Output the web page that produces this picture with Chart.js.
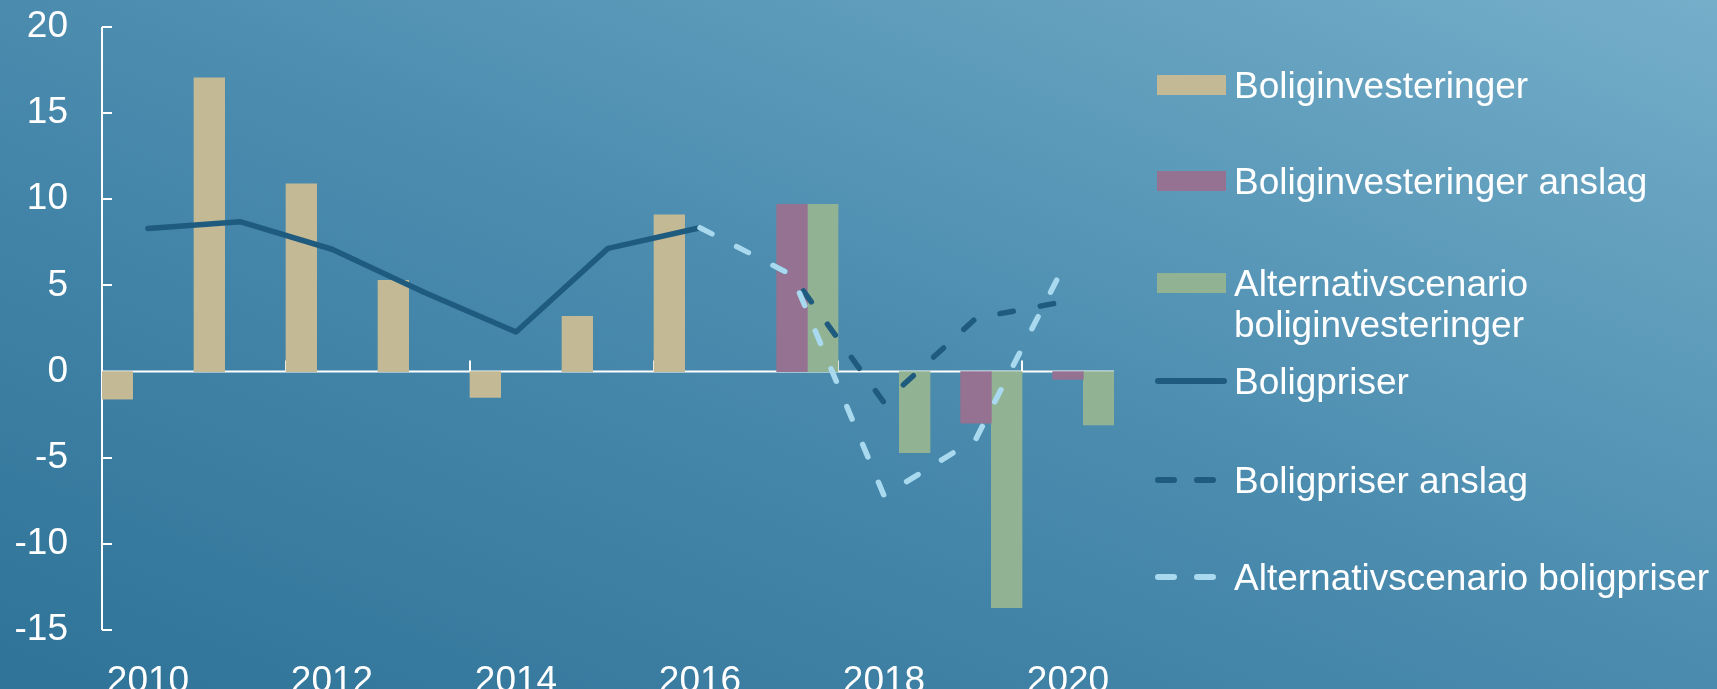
<!DOCTYPE html>
<html>
<head>
<meta charset="utf-8">
<script src="https://cdn.jsdelivr.net/npm/chart.js@4.4.1/dist/chart.umd.min.js"></script>
<style>
  html, body { margin: 0; padding: 0; }
  body {
    width: 1717px; height: 689px; overflow: hidden; position: relative;
    background: linear-gradient(to top right, #2f7398 0%, #4a8bae 50%, #74aec9 100%);
    font-family: Arial, "Liberation Sans", sans-serif; color: #fff;
  }
  #wrap { position: absolute; left: 0; top: 0; width: 1717px; height: 689px; }
  #legend { position: absolute; left: 0; top: 0; }
  .item { position: absolute; font-size: 37px; line-height: 41px; white-space: nowrap; }
  .sw { position: absolute; }
</style>
</head>
<body>
<div id="wrap"><canvas id="myChart"></canvas></div>
<div id="legend"></div>
<script>
// data
const years = ['2010', '2011', '2012', '2013', '2014', '2015', '2016', '2017', '2018', '2019', '2020'];
const boliginvesteringer = [-1.6, 17.05, 10.9, 5.3, -1.5, 3.2, 9.1, null, null, null, null];
const boliginvesteringerAnslag = [null, null, null, null, null, null, null, 9.7, null, -3.0, -0.45];
const altBoliginvesteringer = [null, null, null, null, null, null, null, 9.7, -4.7, -13.7, -3.1];
const boligpriser = [8.3, 8.7, 7.1, 4.6, 2.3, 7.15, 8.35, null, null, null, null];
const boligpriserAnslag = [null, null, null, null, null, null, 8.35, 5.6, -1.8, 3.1, 4.1];
const altBoligpriser = [null, null, null, null, null, null, 8.35, 5.6, -7.2, -3.9, 6.6];
const yMin = -15, yMax = 20, yStep = 5;

const beige = '#c3b994';
const purple = '#957192';
const green = '#92b393';
const darkBlue = '#1f5b7e';
const lightBlue = '#a8d9ef';

// white axis lines with inward ticks, zero line across
const axisMarks = {
  id: 'axisMarks',
  beforeDatasetsDraw(chart) {
    const { ctx, scales: { x, y } } = chart;
    const left = x.left, right = x.right;
    const y0 = y.getPixelForValue(0);
    ctx.save();
    ctx.strokeStyle = '#ffffff';
    ctx.lineWidth = 2;
    ctx.beginPath();
    ctx.moveTo(left, y.getPixelForValue(yMax));
    ctx.lineTo(left, y.getPixelForValue(yMin));
    for (let v = yMin; v <= yMax; v += yStep) {
      const py = Math.round(y.getPixelForValue(v));
      ctx.moveTo(left, py);
      ctx.lineTo(left + 10, py);
    }
    ctx.moveTo(left, y0);
    ctx.lineTo(right, y0);
    const half = (x.getPixelForValue(1) - x.getPixelForValue(0)) / 2;
    for (let i = 0; i < years.length; i += 2) {
      const px = Math.round(x.getPixelForValue(i) - half);
      ctx.moveTo(px, y0);
      ctx.lineTo(px, y0 - 11);
    }
    ctx.stroke();
    ctx.restore();
  }
};

const lineStyle = {
  type: 'line',
  borderWidth: 5.5,
  pointRadius: 0,
  tension: 0,
  borderCapStyle: 'round',
  borderJoinStyle: 'round',
  fill: false,
  spanGaps: false
};

const ctx = document.getElementById('myChart');
new Chart(ctx, {
  type: 'bar',
  data: {
    labels: years,
    datasets: [
      { label: 'Boliginvesteringer', data: boliginvesteringer, backgroundColor: beige, order: 3 },
      { label: 'Boliginvesteringer anslag', data: boliginvesteringerAnslag, backgroundColor: purple, order: 3 },
      { label: 'Alternativscenario boliginvesteringer', data: altBoliginvesteringer, backgroundColor: green, order: 3 },
      Object.assign({}, lineStyle, { label: 'Boligpriser', data: boligpriser, borderColor: darkBlue, order: 2 }),
      Object.assign({}, lineStyle, { label: 'Boligpriser anslag', data: boligpriserAnslag, borderColor: darkBlue, borderDash: [13.5, 27.5], order: 1 }),
      Object.assign({}, lineStyle, { label: 'Alternativscenario boligpriser', data: altBoligpriser, borderColor: lightBlue, borderDash: [13.5, 27.5], order: 0 })
    ]
  },
  options: {
    responsive: true,
    maintainAspectRatio: false,
    animation: false,
    devicePixelRatio: 1,
    layout: { padding: { top: 27, right: 603, bottom: 0, left: 0 } },
    datasets: { bar: { barPercentage: 1, categoryPercentage: 1 } },
    plugins: { legend: { display: false }, tooltip: { enabled: false } },
    scales: {
      x: {
        grid: { display: false },
        border: { display: false },
        ticks: {
          color: '#ffffff',
          font: { family: 'Arial, "Liberation Sans", sans-serif', size: 37 },
          padding: 22,
          autoSkip: false,
          maxRotation: 0,
          callback: (v, i) => (i % 2 === 0 ? years[i] : '')
        },
        afterFit: s => { s.height = 59; }
      },
      y: {
        min: yMin,
        max: yMax,
        grid: { display: false, drawTicks: false },
        border: { display: false },
        ticks: {
          stepSize: yStep,
          color: '#ffffff',
          font: { family: 'Arial, "Liberation Sans", sans-serif', size: 37 },
          padding: 34
        },
        afterFit: s => { s.width = 102; s.paddingTop = 0; s.paddingBottom = 0; }
      }
    }
  },
  plugins: [axisMarks]
});

// legend, built from the same labels and colours
const legendRows = [
  { text: ['Boliginvesteringer'], kind: 'box', color: beige, y: 85 },
  { text: ['Boliginvesteringer anslag'], kind: 'box', color: purple, y: 181 },
  { text: ['Alternativscenario', 'boliginvesteringer'], kind: 'box', color: green, y: 283 },
  { text: ['Boligpriser'], kind: 'solid', color: darkBlue, y: 381 },
  { text: ['Boligpriser anslag'], kind: 'dash', color: darkBlue, y: 480 },
  { text: ['Alternativscenario boligpriser'], kind: 'dash', color: lightBlue, y: 577 }
];
const legend = document.getElementById('legend');
legendRows.forEach(r => {
  let sw;
  if (r.kind === 'box') {
    sw = document.createElement('div');
    sw.className = 'sw';
    sw.style.left = '1157px';
    sw.style.top = (r.y - 10) + 'px';
    sw.style.width = '69px';
    sw.style.height = '20px';
    sw.style.background = r.color;
  } else {
    sw = document.createElementNS('http://www.w3.org/2000/svg', 'svg');
    sw.setAttribute('class', 'sw');
    sw.setAttribute('width', '80');
    sw.setAttribute('height', '12');
    sw.style.left = '1152px';
    sw.style.top = (r.y - 6) + 'px';
    const ln = document.createElementNS('http://www.w3.org/2000/svg', 'line');
    ln.setAttribute('y1', '6');
    ln.setAttribute('y2', '6');
    ln.setAttribute('stroke', r.color);
    ln.setAttribute('stroke-width', '6');
    ln.setAttribute('stroke-linecap', 'round');
    if (r.kind === 'solid') {
      ln.setAttribute('x1', '6');
      ln.setAttribute('x2', '72');
    } else {
      ln.setAttribute('x1', '6');
      ln.setAttribute('x2', '62');
      ln.setAttribute('stroke-dasharray', '16 23');
    }
    sw.appendChild(ln);
  }
  legend.appendChild(sw);
  const t = document.createElement('div');
  t.className = 'item';
  t.style.left = '1234px';
  t.style.top = (r.y - 20) + 'px';
  t.innerHTML = r.text.join('<br>');
  legend.appendChild(t);
});
</script>
</body>
</html>
